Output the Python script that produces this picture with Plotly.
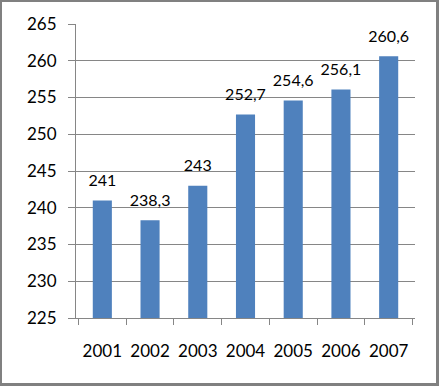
import plotly.graph_objects as go

years = ["2001", "2002", "2003", "2004", "2005", "2006", "2007"]
values = [241, 238.3, 243, 252.7, 254.6, 256.1, 260.6]
labels = ["241", "238,3", "243", "252,7", "254,6", "256,1", "260,6"]

W, H = 439, 386
L, R, T, B = 76, 24, 24, 68
pw, ph = W - L - R, H - T - B

def px_x(p):
    return (p - L) / pw

def px_y(p):
    return (H - B - p) / ph

fig = go.Figure()
fig.add_trace(go.Bar(x=years, y=values, marker=dict(color="#4F81BD", line=dict(width=0)),
                     hoverinfo="skip"))
fig.add_trace(go.Scatter(x=years, y=values, mode="markers+text", text=labels,
                         textposition="top center",
                         marker=dict(size=15, opacity=0, color="white"),
                         textfont=dict(family="Lato", size=16, color="black"),
                         hoverinfo="skip", cliponaxis=False))

fig.add_shape(type="rect", xref="paper", yref="paper", x0=px_x(2), x1=px_x(436),
              y0=px_y(383), y1=px_y(2), fillcolor="white", line=dict(width=0), layer="below")

fig.update_layout(
    width=W, height=H, margin=dict(l=L, r=R, t=T, b=B, autoexpand=False),
    paper_bgcolor="#808080", plot_bgcolor="rgba(0,0,0,0)",
    bargap=0.6, showlegend=False,
    font=dict(family="Lato", size=17, color="black"),
)
fig.update_yaxes(range=[225, 265], dtick=5, showgrid=True, gridcolor="#868686", gridwidth=1,
                 showline=True, linecolor="#868686", linewidth=1, ticks="outside", ticklen=7,
                 tickcolor="#868686", ticklabelstandoff=8, zeroline=False)
fig.update_xaxes(type="category", showline=True, linecolor="#868686", linewidth=1,
                 ticks="outside", ticklen=6, tickangle=0, tickson="boundaries",
                 tickcolor="#868686", ticklabelstandoff=18, showgrid=False)

post = ("document.body.style.margin='0';document.body.style.overflow='hidden';"
        "var gd=document.getElementById('{plot_id}');"
        "Plotly.relayout(gd,{width:439,height:386});")

fig.write_html("out.html", post_script=post, config={"displayModeBar": False})
